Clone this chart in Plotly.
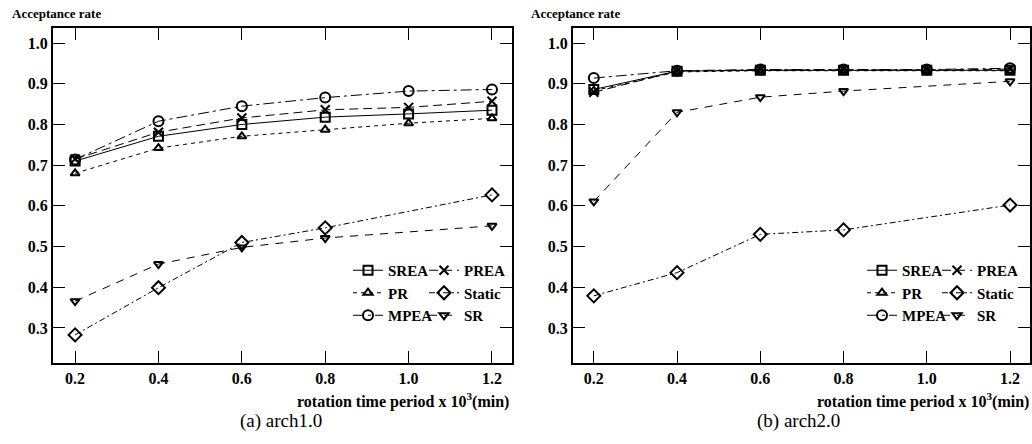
import plotly.graph_objects as go

x_full = [0.2, 0.4, 0.6, 0.8, 1.0, 1.2]
x_part = [0.2, 0.4, 0.6, 0.8, 1.2]

# (a) arch1.0
a_srea = [0.710, 0.771, 0.800, 0.818, 0.826, 0.835]
a_prea = [0.715, 0.781, 0.816, 0.836, 0.842, 0.857]
a_pr = [0.680, 0.742, 0.771, 0.787, 0.803, 0.815]
a_mpea = [0.714, 0.808, 0.845, 0.866, 0.882, 0.886]
a_static = [0.283, 0.399, 0.510, 0.546, 0.627]
a_sr = [0.366, 0.457, 0.498, 0.521, 0.551]

# (b) arch2.0
b_srea = [0.886, 0.931, 0.933, 0.933, 0.933, 0.933]
b_prea = [0.879, 0.931, 0.934, 0.934, 0.934, 0.936]
b_pr = [0.883, 0.929, 0.932, 0.932, 0.932, 0.932]
b_mpea = [0.914, 0.932, 0.935, 0.935, 0.935, 0.938]
b_static = [0.379, 0.436, 0.530, 0.541, 0.602]
b_sr = [0.611, 0.830, 0.867, 0.882, 0.906]

x_ticks = [0.2, 0.4, 0.6, 0.8, 1.0, 1.2]
x_ticklabels = ["0.2", "0.4", "0.6", "0.8", "1.0", "1.2"]
y_ticks = [0.3, 0.4, 0.5, 0.6, 0.7, 0.8, 0.9, 1.0]
y_ticklabels = ["0.3", "0.4", "0.5", "0.6", "0.7", "0.8", "0.9", "1.0"]

symbols = {"SREA": "square-open", "PREA": "x-thin-open", "PR": "triangle-up-open",
           "Static": "diamond-open", "MPEA": "circle-open", "SR": "triangle-down-open"}
dashes = {"SREA": "solid", "PREA": "9px,5px", "PR": "4px,4px",
          "Static": "6px,3px,2px,3px", "MPEA": "11px,4px,3px,4px", "SR": "8px,7px"}
sizes = {"SREA": 9, "PREA": 9, "PR": 8, "Static": 10, "MPEA": 10, "SR": 8}
col1 = ["SREA", "PR", "MPEA"]

FONT = "Liberation Serif, Times New Roman, Times, serif"
W, H = 1032, 444


def px(v):
    return v / W


def py(v):
    return 1 - v / H


fig = go.Figure()

panels = [
    ("x", "y", {"SREA": (x_full, a_srea), "PREA": (x_full, a_prea), "PR": (x_full, a_pr),
                "Static": (x_part, a_static), "MPEA": (x_full, a_mpea), "SR": (x_part, a_sr)},
     "legend", "legend2"),
    ("x2", "y2", {"SREA": (x_full, b_srea), "PREA": (x_full, b_prea), "PR": (x_full, b_pr),
                  "Static": (x_part, b_static), "MPEA": (x_full, b_mpea), "SR": (x_part, b_sr)},
     "legend3", "legend4"),
]

order = ["SREA", "PR", "MPEA", "PREA", "Static", "SR"]
for xa, ya, data, lg1, lg2 in panels:
    for n in order:
        xs, ys = data[n]
        fig.add_trace(go.Scatter(
            x=xs, y=ys, name=n, xaxis=xa, yaxis=ya,
            mode="lines+markers",
            line=dict(color="black", width=1, dash=dashes[n]),
            marker=dict(symbol=symbols[n], size=sizes[n], color="black",
                        line=dict(color="black", width=2)),
            legend=lg1 if n in col1 else lg2,
        ))

yd = [py(363), py(28)]
axis_common = dict(showline=True, linewidth=2, linecolor="black", mirror="ticks",
                   ticks="inside", ticklen=12, tickwidth=1, tickcolor="black",
                   showgrid=False, zeroline=False,
                   tickfont=dict(family=FONT, size=16, color="black", weight="bold"))

legfont = dict(family=FONT, size=15, color="black", weight="bold")
leg_common = dict(bgcolor="rgba(0,0,0,0)", font=legfont, itemwidth=30,
                  tracegroupgap=0, xanchor="left", yanchor="top", traceorder="normal")

fig.update_layout(
    width=W, height=H,
    margin=dict(l=0, r=0, t=0, b=0),
    paper_bgcolor="white", plot_bgcolor="white",
    font=dict(family=FONT, color="black"),
    showlegend=True,
    xaxis=dict(domain=[px(53), px(512)], range=[0.147, 1.248],
               tickvals=x_ticks, ticktext=x_ticklabels, anchor="y", **axis_common),
    yaxis=dict(domain=yd, range=[0.214, 1.037],
               tickvals=y_ticks, ticktext=y_ticklabels, anchor="x", **axis_common),
    xaxis2=dict(domain=[px(573), px(1030)], range=[0.15, 1.248],
                tickvals=x_ticks, ticktext=x_ticklabels, anchor="y2", **axis_common),
    yaxis2=dict(domain=yd, range=[0.214, 1.037],
                tickvals=y_ticks, ticktext=y_ticklabels, anchor="x2", **axis_common),
    legend=dict(x=px(348), y=py(254), **leg_common),
    legend2=dict(x=px(424), y=py(254), **leg_common),
    legend3=dict(x=px(862), y=py(254), **leg_common),
    legend4=dict(x=px(937), y=py(254), **leg_common),
)

anns = [
    dict(text="<b>Acceptance rate</b>", x=px(10), y=py(13), xanchor="left", yanchor="middle", size=13),
    dict(text="<b>Acceptance rate</b>", x=px(529), y=py(13), xanchor="left", yanchor="middle", size=13),
    dict(text="<b>rotation time period x 10<sup>3</sup>(min)</b>", x=px(511), y=py(400),
         xanchor="right", yanchor="middle", size=16),
    dict(text="<b>rotation time period x 10<sup>3</sup>(min)</b>", x=px(1031), y=py(400),
         xanchor="right", yanchor="middle", size=16),
    dict(text="(a) arch1.0", x=px(281), y=py(421), xanchor="center", yanchor="middle", size=19),
    dict(text="(b) arch2.0", x=px(798), y=py(421), xanchor="center", yanchor="middle", size=19),
]
for a in anns:
    fig.add_annotation(text=a["text"], x=a["x"], y=a["y"], xref="paper", yref="paper",
                       xanchor=a["xanchor"], yanchor=a["yanchor"], showarrow=False,
                       font=dict(family=FONT, size=a["size"], color="black"))

fig.write_html(
    "out.html",
    config={"displayModeBar": False},
    post_script="document.body.style.margin='0';document.body.style.overflow='hidden';",
)
